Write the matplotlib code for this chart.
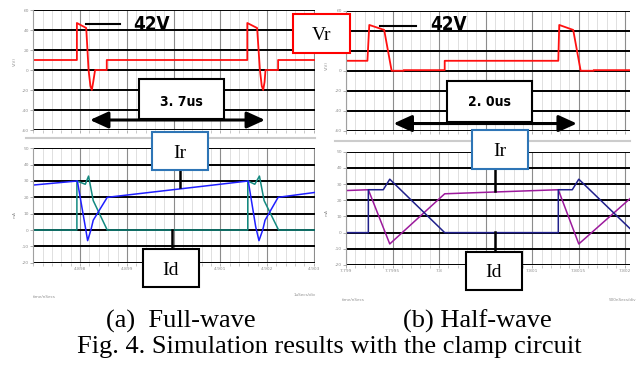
import matplotlib
matplotlib.use("Agg")
import matplotlib.pyplot as plt
from matplotlib import font_manager
from matplotlib.patches import Rectangle, FancyArrowPatch, ArrowStyle
from matplotlib.lines import Line2D
from matplotlib.ticker import MultipleLocator

W, H = 637, 367

# (a) full-wave, time in ms
vr_a_t = [4.89699, 4.89793, 4.89793, 4.89813, 4.89818, 4.89822, 4.89825, 4.89828, 4.89832, 4.89857, 4.89857,
          4.90158, 4.90158, 4.90179, 4.90185, 4.90189, 4.90192, 4.90195, 4.90197, 4.90224, 4.90224, 4.90303]
vr_a_v = [10, 10, 47, 42, 0, -16, -20, -12, 0, 0, 10,
          10, 47, 42, 0, -16, -20, -12, 0, 0, 10, 10]
ir_a_t = [4.89699, 4.89794, 4.89811, 4.89816, 4.89823, 4.89828, 4.89858,
          4.90160, 4.90176, 4.90183, 4.90191, 4.90196, 4.90224, 4.90303]
ir_a_v = [27.5, 30, 2, -6.5, 0, 6, 20, 30, 2, -6.5, 0, 6, 20, 23]
id_a_t = [4.89699, 4.89793, 4.89793, 4.89811, 4.89818, 4.89828, 4.89858,
          4.90159, 4.90159, 4.90174, 4.90184, 4.90194, 4.90225, 4.90303]
id_a_v = [0, 0, 30, 28, 33, 18, 0, 0, 30, 28, 33, 18, 0, 0]

# (b) half-wave, time in ms
vr_b_t = [7.79900, 7.79923, 7.79925, 7.79941, 7.79949, 7.79962, 7.79962, 7.80006, 7.80006,
          7.80128, 7.80129, 7.80144, 7.80152, 7.80166, 7.80166, 7.80205]
vr_b_v = [10, 10, 46, 41, 0, 0, 0.6, 0.6, 10, 10, 46, 41, 0, 0, 0.6, 0.6]
ir_b_t = [7.79900, 7.79924, 7.79947, 7.80006, 7.80128, 7.80150, 7.80205]
ir_b_v = [26, 26.5, -7, 24, 26.5, -7, 21]
id_b_t = [7.79900, 7.79924, 7.79924, 7.79940, 7.79947, 7.80006,
          7.80128, 7.80128, 7.80143, 7.80150, 7.80205]
id_b_v = [0, 0, 26.5, 26.5, 33, 0, 0, 26.5, 26.5, 33, 2.5]

# labels hidden behind the Id boxes are left blank
xticks_a = [4.898, 4.899, 4.900, 4.901, 4.902, 4.903]
xlabels_a = ["4.898", "4.899", "", "4.901", "4.902", "4.903"]
xticks_b = [7.799, 7.7995, 7.800, 7.8005, 7.801, 7.8015, 7.802]
xlabels_b = ["7.799", "7.7995", "7.8", "", "7.801", "7.8015", "7.802"]
yticks_v = [-60, -40, -20, 0, 20, 40, 60]
yticks_i = [-20, -10, 0, 10, 20, 30, 40, 50]

fig = plt.figure(figsize=(W / 100, H / 100), dpi=100)

# look for a narrow bold face for the scope labels
narrow_file = None
for f in font_manager.fontManager.ttflist:
    fn = f.fname.replace(" ", "")
    if ("Narrow" in fn or "Condensed" in fn) and "Bold" in fn and "Italic" not in fn and "Oblique" not in fn:
        narrow_file = f.fname
        break
if narrow_file:
    big_font = font_manager.FontProperties(fname=narrow_file, size=13.5)
    mid_font = font_manager.FontProperties(fname=narrow_file, size=10)
else:
    big_font = font_manager.FontProperties(family="Liberation Sans", weight="bold", size=12.5)
    mid_font = font_manager.FontProperties(family="Liberation Sans", weight="bold", size=9.5)


def fx(x):
    return x / W


def fy(y):
    return 1 - y / H


def scope_axes(x0, y0, x1, y1, xlim, ylim, xticks, xlabels, minor, yticks, show_x):
    ax = fig.add_axes([fx(x0), fy(y1), (x1 - x0) / W, (y1 - y0) / H])
    ax.set_xlim(xlim)
    ax.set_ylim(ylim)
    ax.set_xticks(xticks, xlabels)
    ax.xaxis.set_minor_locator(MultipleLocator(minor))
    ax.set_yticks(yticks, [str(v) for v in yticks])
    ax.grid(which="major", axis="y", color="black", lw=1.4)
    ax.grid(which="major", axis="x", color="#8c8c8c", lw=0.8)
    ax.grid(which="minor", axis="x", color="#dadada", lw=0.6)
    ax.set_axisbelow(True)
    for s in ["top", "right", "bottom"]:
        ax.spines[s].set_visible(False)
    ax.spines["left"].set_color("#a0a0a0")
    ax.spines["left"].set_linewidth(0.8)
    ax.tick_params(labelsize=3.2, colors="#909090", length=2, width=0.5, pad=1)
    ax.tick_params(which="minor", length=2, width=0.4, colors="#a0a0a0")
    if not show_x:
        ax.tick_params(labelbottom=False)
    ax.patch.set_alpha(0)
    return ax


def double_arrow(ax, t0, t1, y):
    ax.add_patch(FancyArrowPatch((t0, y), (t1, y), arrowstyle=ArrowStyle("<|-|>", head_length=1.1, head_width=0.5),
                                 mutation_scale=10, color="black", lw=2.2, shrinkA=0, shrinkB=0,
                                 clip_on=False, zorder=3))


def box(x0, y0, x1, y1, edge):
    fig.add_artist(Rectangle((fx(x0), fy(y1)), (x1 - x0) / W, (y1 - y0) / H, transform=fig.transFigure,
                             facecolor="white", edgecolor=edge, lw=1.5, zorder=4))


def seg(x0, y0, x1, y1, color="black", lw=1.8):
    fig.add_artist(Line2D([fx(x0), fx(x1)], [fy(y0), fy(y1)], transform=fig.transFigure,
                          color=color, lw=lw, zorder=3))


def label(x, y, s, **kw):
    fig.text(fx(x), fy(y), s, zorder=6, **kw)


# --- axes ---
ax_va = scope_axes(33, 10, 315, 130, (4.89699, 4.90303), (-60, 60), xticks_a, xlabels_a, 0.0002, yticks_v, False)
ax_ia = scope_axes(33, 148.3, 315, 262.7, (4.89699, 4.90303), (-20, 50), xticks_a, xlabels_a, 0.0002, yticks_i, True)
ax_vb = scope_axes(346, 11, 630, 130.5, (7.799, 7.80205), (-60, 60), xticks_b, xlabels_b, 0.0001, yticks_v, False)
ax_ib = scope_axes(346, 151.7, 630, 265, (7.799, 7.80205), (-20, 50), xticks_b, xlabels_b, 0.0001, yticks_i, True)

ax_va.plot(vr_a_t, vr_a_v, color="#ff1010", lw=1.3)
ax_ia.plot(id_a_t, id_a_v, color="#138a80", lw=1.1)
ax_ia.plot(ir_a_t, ir_a_v, color="#1f1fff", lw=1.1)
ax_vb.plot(vr_b_t, vr_b_v, color="#ff1010", lw=1.3)
ax_ib.plot(ir_b_t, ir_b_v, color="#9c1a9c", lw=1.1)
ax_ib.plot(id_b_t, id_b_v, color="#20208c", lw=1.1)

double_arrow(ax_va, 4.89821, 4.90196, -50)
double_arrow(ax_vb, 7.79951, 7.80148, -53)

# separators between the voltage and current panes
seg(26, 138, 315, 138, color="#cccccc", lw=1.5)
seg(335, 141, 630, 141, color="#cccccc", lw=1.5)

# tiny axis captions of the scope screens
small = dict(fontsize=3, color="#909090")
label(15, 62, "V(V)", rotation=90, ha="center", va="center", **small)
label(15, 215, "mA", rotation=90, ha="center", va="center", **small)
label(327, 65, "V(V)", rotation=90, ha="center", va="center", **small)
label(327, 212, "mA", rotation=90, ha="center", va="center", **small)
label(44, 297, "time/nSecs", ha="center", va="center", **small)
label(305, 295, "1uSecs/div", ha="center", va="center", **small)
label(353, 300, "time/nSecs", ha="center", va="center", **small)
label(622, 300, "500nSecs/div", ha="center", va="center", **small)

# 42V markers
seg(86, 24, 120, 24, lw=1.5)
label(133, 30, "42V", fontproperties=big_font, ha="left", va="baseline")
seg(380, 25.7, 416, 25.7, lw=1.5)
label(430, 29.5, "42V", fontproperties=big_font, ha="left", va="baseline")

# period boxes
box(139.3, 79.3, 224, 119, "black")
label(181.7, 106, "3. 7us", fontproperties=mid_font, ha="center", va="baseline")
box(447.3, 80.7, 532, 122.3, "black")
label(489.7, 106.5, "2. 0us", fontproperties=mid_font, ha="center", va="baseline")

# signal name boxes
serif = ["Liberation Serif", "DejaVu Serif"]
box(293.3, 14, 350, 53, "#ff0000")
label(321.7, 40, "Vr", family=serif, fontsize=14, ha="center", va="baseline")

seg(180, 170, 180, 187)
box(151.7, 131.7, 208.3, 170, "#2e75b6")
label(180, 158.3, "Ir", family=serif, fontsize=14, ha="center", va="baseline")
seg(495, 169, 495, 191)
box(471.7, 130, 527.7, 169, "#2e75b6")
label(499.7, 156.5, "Ir", family=serif, fontsize=14, ha="center", va="baseline")

seg(172, 230, 172, 249.3)
box(142.7, 249.3, 199, 287.3, "black")
label(170.8, 275, "Id", family=serif, fontsize=14, ha="center", va="baseline")
seg(495, 232, 495, 251.7)
box(465.7, 251.7, 522.3, 290, "black")
label(494, 276.7, "Id", family=serif, fontsize=14, ha="center", va="baseline")

# captions
label(181, 328, "(a)  Full-wave", family=serif, fontsize=19, ha="center", va="baseline")
label(477, 328, "(b) Half-wave", family=serif, fontsize=19, ha="center", va="baseline")
label(329, 352.7, "Fig. 4. Simulation results with the clamp circuit", family=serif, fontsize=19,
      ha="center", va="baseline")

fig.savefig("out.png", dpi=100)
